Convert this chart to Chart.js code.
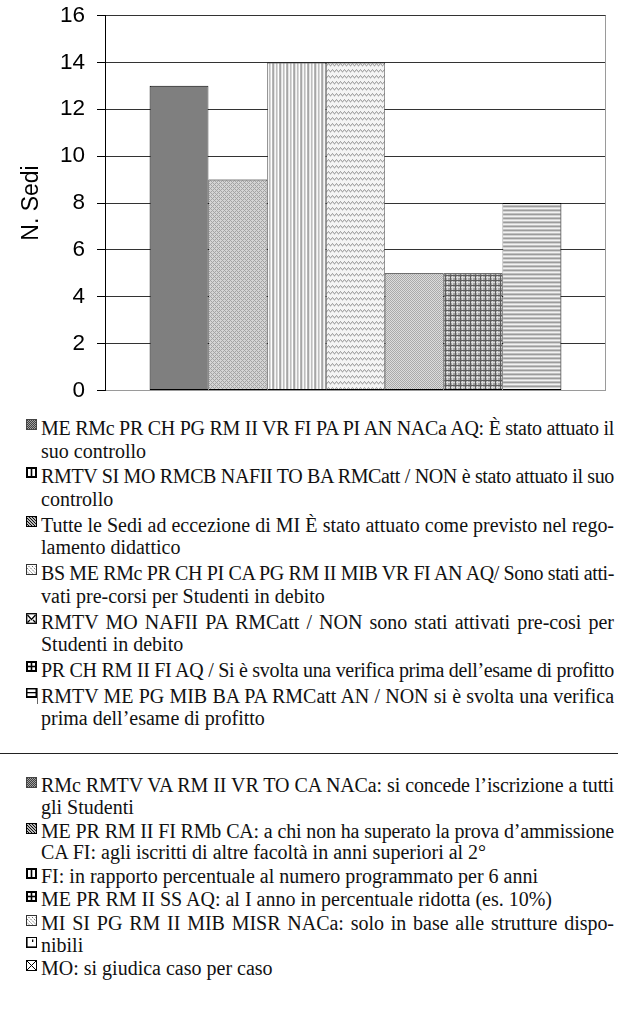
<!DOCTYPE html>
<html><head><meta charset="utf-8">
<script src="https://cdn.jsdelivr.net/npm/chart.js@4.4.0/dist/chart.umd.min.js"></script>
<style>
html,body{margin:0;padding:0;background:#fff;}
#wrap{position:relative;width:629px;height:1015px;overflow:hidden;background:#fff;}
#chartBox{position:absolute;left:0;top:-10px;width:629px;height:426px;}
.blk{position:absolute;left:41px;width:573px;font-family:'Liberation Serif','Times New Roman',serif;font-size:20px;color:#111;}
.item{position:relative;}
.ln{display:block;}
.j{text-align:justify;text-align-last:justify;}
.ico{position:absolute;left:-15px;top:2px;width:11px;height:11px;}
.cur{position:absolute;left:-4px;top:3px;width:1px;height:16px;background:#666;}
#b1{top:417px;line-height:22.6px;}
#b1 .item+.item{margin-top:3.2px;}
#b2{top:775.4px;line-height:21.7px;}
#b2 .item+.item{margin-top:1.8px;}
#b2 .item.cont{margin-top:0;}
#sep{position:absolute;left:0;top:752.5px;width:618px;height:1.5px;background:#222;}
</style></head>
<body><div id="wrap"><div id="chartBox"><canvas id="c"></canvas></div>
<div id="b1" class="blk"></div><div id="sep"></div><div id="b2" class="blk"></div></div>
<script>
// ---- chart data ----
const categories = [''];
const seriesNames = ['S1', 'S2', 'S3', 'S4', 'S5', 'S6', 'S7'];
const seriesValues = [13, 9, 14, 14, 5, 5, 8];
const yTickValues = [0, 2, 4, 6, 8, 10, 12, 14, 16];
const yTitle = 'N. Sedi';

// ---- legend texts ----
const legendTop = [
  {icon:'dots', lines:['ME RMc PR CH PG RM II VR FI PA PI AN NACa AQ: È stato attuato il','suo controllo']},
  {icon:'bars3', lines:['RMTV SI MO RMCB NAFII TO BA RMCatt / NON è stato attuato il suo','controllo']},
  {icon:'diag', lines:['Tutte le Sedi ad eccezione di MI È stato attuato come previsto nel rego-','lamento didattico']},
  {icon:'diagdash', lines:['BS ME RMc PR CH PI CA PG RM II MIB VR FI AN AQ/ Sono stati atti-','vati pre-corsi per Studenti in debito']},
  {icon:'env', lines:['RMTV MO NAFII PA RMCatt /  NON sono stati attivati pre-cosi per','Studenti in debito']},
  {icon:'grid', full:true, lines:['PR CH RM II FI AQ / Si è svolta una verifica prima dell’esame di profitto']},
  {icon:'hbox', cur:true, lines:['RMTV ME PG MIB BA PA RMCatt AN / NON si è svolta una verifica','prima dell’esame di profitto']}
];
const legendBottom = [
  {icon:'dots', lines:['RMc RMTV VA RM II VR TO CA NACa: si concede l’iscrizione a tutti','gli Studenti']},
  {icon:'diag', lines:['ME PR RM II FI RMb CA: a chi non ha superato la prova d’ammissione','CA FI: agli iscritti di altre facoltà in anni superiori al 2°']},
  {icon:'bars3', lines:['FI: in rapporto percentuale al numero programmato per 6 anni']},
  {icon:'grid', lines:['ME PR RM II SS AQ: al I anno in percentuale ridotta (es. 10%)']},
  {icon:'diagdash', full:true, lines:['MI SI PG RM II MIB MISR NACa: solo in base alle strutture dispo-']},
  {icon:'corner', cont:true, lines:['nibili']},
  {icon:'xbox', lines:['MO: si giudica caso per caso']}
];

function drawIcon(g, type){
  g.fillStyle='#fff'; g.fillRect(0,0,11,11);
  g.fillStyle='#000'; g.strokeStyle='#000'; g.lineWidth=1;
  switch(type){
    case 'dots':
      for(let y=1;y<10;y++)for(let x=1;x<10;x++){g.fillStyle=((x+y)%2)?'#a0a0a0':'#404040';g.fillRect(x,y,1,1);}
      g.strokeStyle='#444'; g.strokeRect(0.5,0.5,10,10); break;
    case 'bars3':
      g.fillRect(0,0,11,2); g.fillRect(0,9,11,2); g.fillRect(0,0,2,11); g.fillRect(9,0,2,11); g.fillRect(4.7,0,1.6,11); break;
    case 'diag':
      g.strokeRect(0.5,0.5,10,10); g.save(); g.beginPath(); g.rect(1,1,9,9); g.clip();
      g.lineWidth=1.1; for(let k=-10;k<11;k+=3){g.beginPath(); g.moveTo(k,0); g.lineTo(k+11,11); g.stroke();} g.restore(); break;
    case 'diagdash':
      g.strokeStyle='#333'; g.strokeRect(0.5,0.5,10,10); g.save(); g.beginPath(); g.rect(1,1,9,9); g.clip();
      g.strokeStyle='#555'; g.setLineDash([1.5,1.5]); for(let k=-10;k<11;k+=3.5){g.beginPath(); g.moveTo(k,0); g.lineTo(k+11,11); g.stroke();} g.restore(); break;
    case 'env':
      g.lineWidth=1.3; g.strokeRect(0.7,0.7,9.6,9.6); g.beginPath(); g.moveTo(1.5,2); g.lineTo(5.5,6.5); g.lineTo(9.5,2); g.stroke();
      g.beginPath(); g.moveTo(1.5,9.5); g.lineTo(4,7); g.moveTo(9.5,9.5); g.lineTo(7,7); g.stroke(); break;
    case 'grid':
      g.fillRect(0,0,11,2); g.fillRect(0,9,11,2); g.fillRect(0,0,2,11); g.fillRect(9,0,2,11); g.fillRect(0,4.7,11,1.6); g.fillRect(4.7,0,1.6,11); break;
    case 'hbox':
      g.fillRect(0,1,11,1.5); g.fillRect(0,9,11,2); g.fillRect(0,1,1.5,10); g.fillRect(9.5,1,1.5,10); g.fillRect(0,5,11,1.3); break;
    case 'corner':
      g.strokeRect(0.5,0.5,10,10); g.fillRect(0,0,1.6,11); g.fillRect(0,9.4,11,1.6); g.fillRect(6,2.5,1.3,2.5); break;
    case 'xbox':
      g.strokeRect(0.5,0.5,10,10); g.beginPath(); g.moveTo(1,1); g.lineTo(10,10); g.moveTo(10,1); g.lineTo(1,10); g.stroke(); break;
  }
}

function buildLegend(el, items){
  items.forEach(it=>{
    const d=document.createElement('div'); d.className='item'+(it.cont?' cont':'');
    it.lines.forEach((t,i)=>{
      const s=document.createElement('div'); s.className='ln';
      if(i<it.lines.length-1 || it.full) s.classList.add('j');
      s.textContent=t; d.appendChild(s);
    });
    const c=document.createElement('canvas'); c.width=11; c.height=11; c.className='ico';
    drawIcon(c.getContext('2d'), it.icon); d.appendChild(c);
    if(it.cur){const k=document.createElement('div'); k.className='cur'; d.appendChild(k);}
    el.appendChild(d);
  });
}
buildLegend(document.getElementById('b1'), legendTop);
buildLegend(document.getElementById('b2'), legendBottom);

// squeeze over-long lines so that each printed line keeps its own break
document.querySelectorAll('.ln').forEach(el=>{
  const W=el.clientWidth, txt=el.textContent;
  const sp=document.createElement('span'); sp.style.whiteSpace='nowrap'; sp.textContent=txt;
  el.textContent=''; el.appendChild(sp);
  const w=sp.getBoundingClientRect().width;
  el.textContent=txt;
  if(w>W-1){ el.style.letterSpacing=(-(w-W+2)/txt.length).toFixed(3)+'px'; }
});

// ---- fill patterns ----
const cv=document.getElementById('c');
const cctx=cv.getContext('2d');
function pat(w,h,fn){const c=document.createElement('canvas');c.width=w;c.height=h;const g=c.getContext('2d');fn(g);return cctx.createPattern(c,'repeat');}
const fills=[
  '#7f7f7f',
  pat(4,4,g=>{g.fillStyle='#d4d4d4';g.fillRect(0,0,4,4);for(let y=0;y<4;y++)for(let x=0;x<4;x++){if((x+y)%4===0||((x-y)+4)%4===0){g.fillStyle='#a4a4a4';g.fillRect(x,y,1,1);}}}),
  pat(7,1,g=>{['#a6a6a6','#e2e2e2','#f6f6f6','#bebebe','#d8d8d8','#ffffff','#b6b6b6'].forEach((c,i)=>{g.fillStyle=c;g.fillRect(i,0,1,1);});}),
  pat(8,6,g=>{g.fillStyle='#f4f4f4';g.fillRect(0,0,8,6);const w=[0,1,2,1,0,1,2,1];w.forEach((y,x)=>{g.fillStyle='#a8a8a8';g.fillRect(x,y+1,1,1);g.fillStyle='#d0d0d0';g.fillRect(x,y+2,1,1);});}),
  pat(2,2,g=>{g.fillStyle='#dcdcdc';g.fillRect(0,0,2,2);g.fillStyle='#aaaaaa';g.fillRect(0,0,1,1);g.fillRect(1,1,1,1);}),
  pat(5,5,g=>{g.fillStyle='#a4a4a4';g.fillRect(0,0,5,5);g.fillStyle='#d8d8d8';g.fillRect(0,2,5,1);g.fillRect(2,0,1,5);g.fillStyle='#5c5c5c';g.fillRect(0,0,5,1);g.fillRect(0,0,1,5);}),
  pat(1,4,g=>{['#9c9c9c','#d2d2d2','#f2f2f2','#c0c0c0'].forEach((c,i)=>{g.fillStyle=c;g.fillRect(0,i,1,1);});})
];

const frame={id:'frame',beforeDatasetsDraw(chart){const {ctx,chartArea:a}=chart;ctx.save();ctx.strokeStyle='#9a9a9a';ctx.lineWidth=1;ctx.beginPath();ctx.moveTo(a.right-0.5,a.top);ctx.lineTo(a.right-0.5,a.bottom);ctx.stroke();ctx.restore();}};

const n=seriesValues.length;
new Chart(cv,{
  type:'bar',
  data:{labels:categories,datasets:seriesValues.map((v,i)=>({
    label:seriesNames[i],data:[v],backgroundColor:fills[i],borderColor:'#000',
    borderWidth:{top:1,bottom:1,left:i===0?1:0.6,right:i===n-1?1:0.6},
    borderSkipped:false,inflateAmount:0,categoryPercentage:0.822,barPercentage:1
  }))},
  options:{
    responsive:true,maintainAspectRatio:false,animation:false,
    layout:{padding:{left:10,top:0,right:23,bottom:0}},
    plugins:{legend:{display:false},tooltip:{enabled:false}},
    scales:{
      x:{display:false},
      y:{min:0,max:16,
        afterBuildTicks:s=>{s.ticks=yTickValues.map(v=>({value:v}));},
        ticks:{color:'#000',padding:12,font:{family:"'Liberation Sans', Arial, sans-serif",size:22.5}},
        grid:{color:c=>(c.tick&&c.tick.value===0)?'#9a9a9a':'#333',tickColor:'#000',tickLength:8,lineWidth:1},
        border:{color:'#000',width:1},
        title:{display:true,text:yTitle,color:'#000',font:{family:"'Liberation Sans', Arial, sans-serif",size:23},padding:{top:8.2,bottom:0}},
        afterFit:s=>{s.width=95;}
      }
    }
  },
  plugins:[frame]
});
</script>
</body></html>
